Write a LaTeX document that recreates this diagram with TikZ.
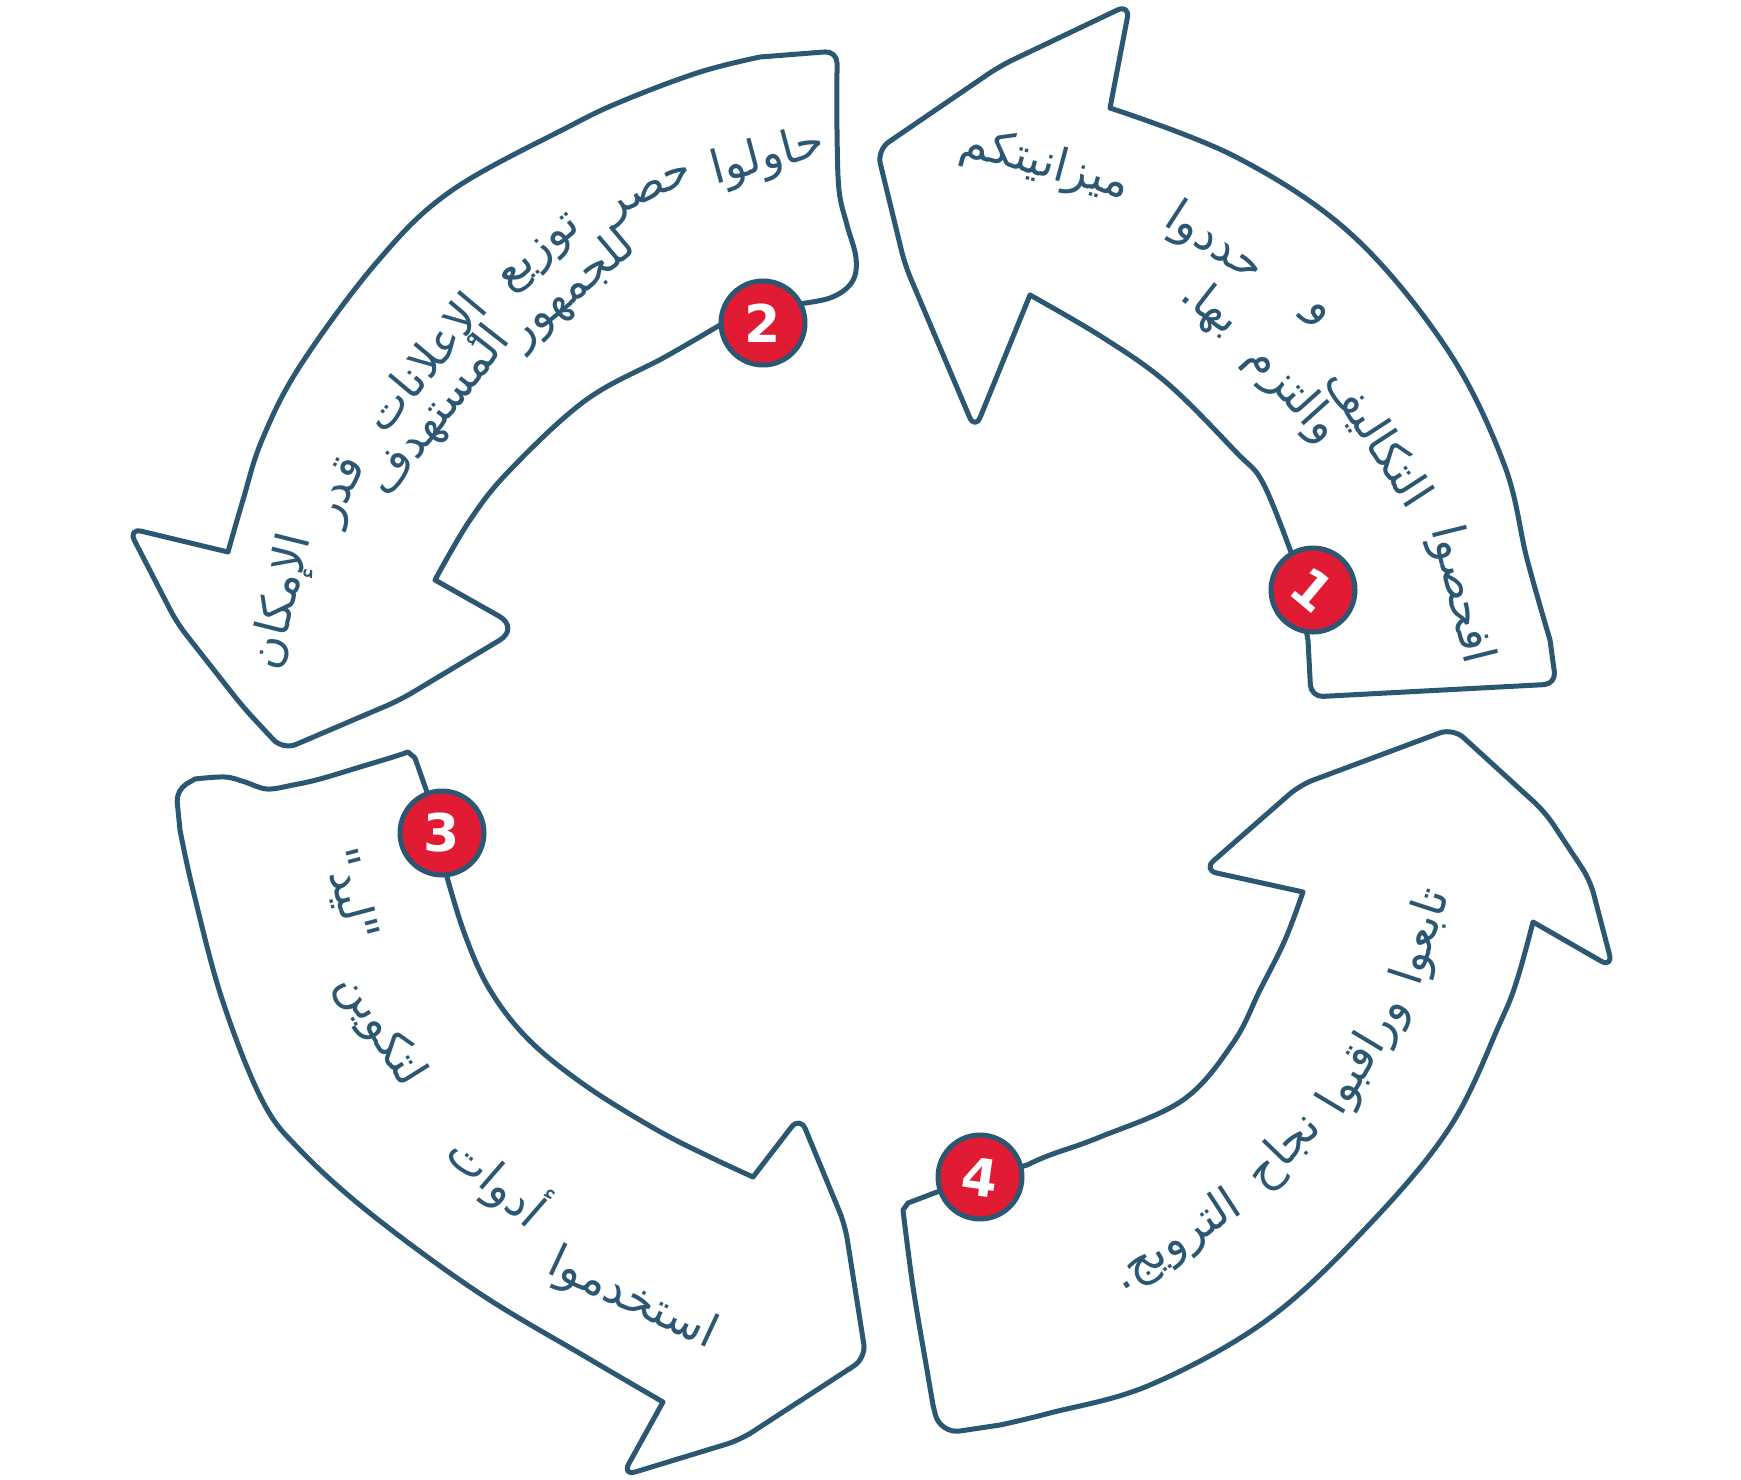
\documentclass[tikz,border=0pt]{standalone}
\usepackage{fontspec}
\newfontfamily\arabicfont[Script=Arabic]{DejaVu Sans}
\newfontfamily\digitfont{DejaVu Sans}
\TeXXeTstate=1
\definecolor{inkblue}{HTML}{2C5773}
\definecolor{stepred}{HTML}{E11B34}
\tikzset{
    arrowline/.style={draw=inkblue, line width=5pt, line join=round, line cap=round},
    numdot/.style={circle, draw=inkblue, fill=stepred, line width=5pt, minimum size=84pt,
        inner sep=0pt, text=white, font=\digitfont\bfseries\fontsize{52}{52}\selectfont},
    wordlbl/.style={text=inkblue, inner sep=0pt, font=\arabicfont\fontsize{46}{50}\selectfont}
}

\begin{document}
\begin{tikzpicture}[x=1pt, y=-1pt]
\useasboundingbox (0,0) rectangle (1741,1480);

% arrow 1 (top right)
\draw[arrowline] plot[smooth, tension=.6] coordinates {(1030,295) (1102,337) (1167,383) (1236,452) (1263,483) (1292,555)}
    -- (1308,640) [rounded corners=12pt] -- (1311,697) -- (1556,684) [sharp corners] -- (1550,640)
    -- plot[smooth, tension=.6] coordinates {(1550,640) (1527,559) (1504,464) (1447,349) (1351,234) (1236,157) (1110,108)}
    [rounded corners=14pt] -- (1130,4) -- (1000,66) -- (877,150) -- (905,265) -- (975,430) [sharp corners] -- (1030,295);

% arrow 2 (top left)
\draw[arrowline] plot[smooth, tension=.6] coordinates {(435,580) (470,520) (510,470) (586,400) (665,357) (720,325)}
    -- (790,305)
    -- plot[smooth, tension=.6] coordinates {(790,305) (830,298) (852,282) (856,258) (847,225) (839,190) (837,130) (837,72)}
    [rounded corners=12pt] -- (837,51) [sharp corners] -- (760,57)
    -- plot[smooth, tension=.6] coordinates {(760,57) (700,72) (625,100) (570,126) (451,191) (377,262) (300,366) (262,440) (243,500) (228,552)}
    [rounded corners=14pt] -- (128,528) -- (177,623) -- (243,707) -- (283,750) -- (400,700) [rounded corners=24pt] -- (520,628) [sharp corners] -- (435,580);

% arrow 3 (bottom left)
\draw[arrowline] plot[smooth, tension=.6] coordinates {(753,1177) (710,1157) (657,1130) (586,1086) (529,1040) (490,990) (465,935) (447,877)}
    -- (428,795) -- (415,758)
    -- plot[smooth, tension=.6] coordinates {(408,752) (393,757) (360,767) (320,779) (293,785) (267,789) (245,782) (225,777) (195,779)}
    [rounded corners=12pt] -- (176,790) [sharp corners] -- (180,830)
    -- plot[smooth, tension=.6] coordinates {(180,830) (193,890) (222,999) (262,1100) (300,1150) (371,1214) (479,1293) (586,1357) (663,1402)}
    [rounded corners=14pt] -- (622,1476) -- (740,1440) -- (866,1358) -- (845,1225) -- (800,1116) [sharp corners] -- (753,1177);

% arrow 4 (bottom right)
\draw[arrowline] plot[smooth, tension=.6] coordinates {(1303,892) (1285,940) (1260,990) (1233,1043) (1183,1100) (1100,1137) (1050,1155) (1027,1165)}
    -- (937,1192) -- (908,1203)
    -- plot[smooth, tension=.6] coordinates {(903,1210) (913,1287) (927,1370) (933,1405)}
    [rounded corners=20pt] -- (940,1434) [sharp corners] -- (1000,1425)
    -- plot[smooth, tension=.6] coordinates {(1000,1425) (1050,1413) (1150,1385) (1267,1320) (1367,1227) (1450,1127) (1500,1023) (1517,980) (1533,922)}
    [rounded corners=14pt] -- (1613,968) -- (1590,880) -- (1545,812) -- (1453,728) -- (1300,785) -- (1203,870) [sharp corners] -- (1303,892);

% step numbers
\node[numdot, rotate=-40] (n1) at (1313,590) {1};
\node[numdot] (n2) at (763,323) {2};
\node[numdot] (n3) at (442,833) {3};
\node[numdot, rotate=-8] (n4) at (980,1177) {4};

% step 1 text
\node[wordlbl, rotate=-76] (t1a) at (1460,595) {\beginR افحصوا\endR};
\node[wordlbl, rotate=-57] (t1b) at (1378,438) {\beginR التكاليف\endR};
\node[wordlbl, rotate=-45] (t1c) at (1315,316) {\beginR و\endR};
\node[wordlbl, rotate=-33] (t1d) at (1214,244) {\beginR حددوا\endR};
\node[wordlbl, rotate=-15] (t1e) at (1045,165) {\beginR ميزانيتكم\endR};
\node[wordlbl, rotate=-48] (t1f) at (1292,394) {\beginR والتزم\endR};
\node[wordlbl, rotate=-38] (t1g) at (1210,308) {\beginR بها.\endR};

% step 2 text
\node[wordlbl, rotate=15] (t2a) at (768,158) {\beginR حاولوا\endR};
\node[wordlbl, rotate=26] (t2b) at (651,196) {\beginR حصر\endR};
\node[wordlbl, rotate=40] (t2c) at (542,255) {\beginR توزيع\endR};
\node[wordlbl, rotate=50] (t2d) at (428,365) {\beginR الإعلانات\endR};
\node[wordlbl, rotate=64] (t2e) at (343,492) {\beginR قدر\endR};
\node[wordlbl, rotate=76] (t2f) at (283,602) {\beginR الإمكان\endR};
\node[wordlbl, rotate=40] (t2g) at (572,290) {\beginR للجمهور\endR};
\node[wordlbl, rotate=52] (t2h) at (440,412) {\beginR المستهدف\endR};

% step 3 text
\node[wordlbl, rotate=-25] (t3a) at (632,1300) {\beginR استخدموا\endR};
\node[wordlbl, rotate=-41] (t3b) at (497,1180) {\beginR أدوات\endR};
\node[wordlbl, rotate=-58] (t3c) at (380,1030) {\beginR لتكوين\endR};
\node[wordlbl, rotate=-75] (t3d) at (350,895) {\beginR "ليد"\endR};

% step 4 text
\node[wordlbl, rotate=72] (t4a) at (1423,937) {\beginR تابعوا\endR};
\node[wordlbl, rotate=59] (t4b) at (1365,1056) {\beginR وراقبوا\endR};
\node[wordlbl, rotate=46] (t4c) at (1285,1152) {\beginR نجاح\endR};
\node[wordlbl, rotate=33] (t4d) at (1177,1242) {\beginR الترويج.\endR};
\end{tikzpicture}
\end{document}
